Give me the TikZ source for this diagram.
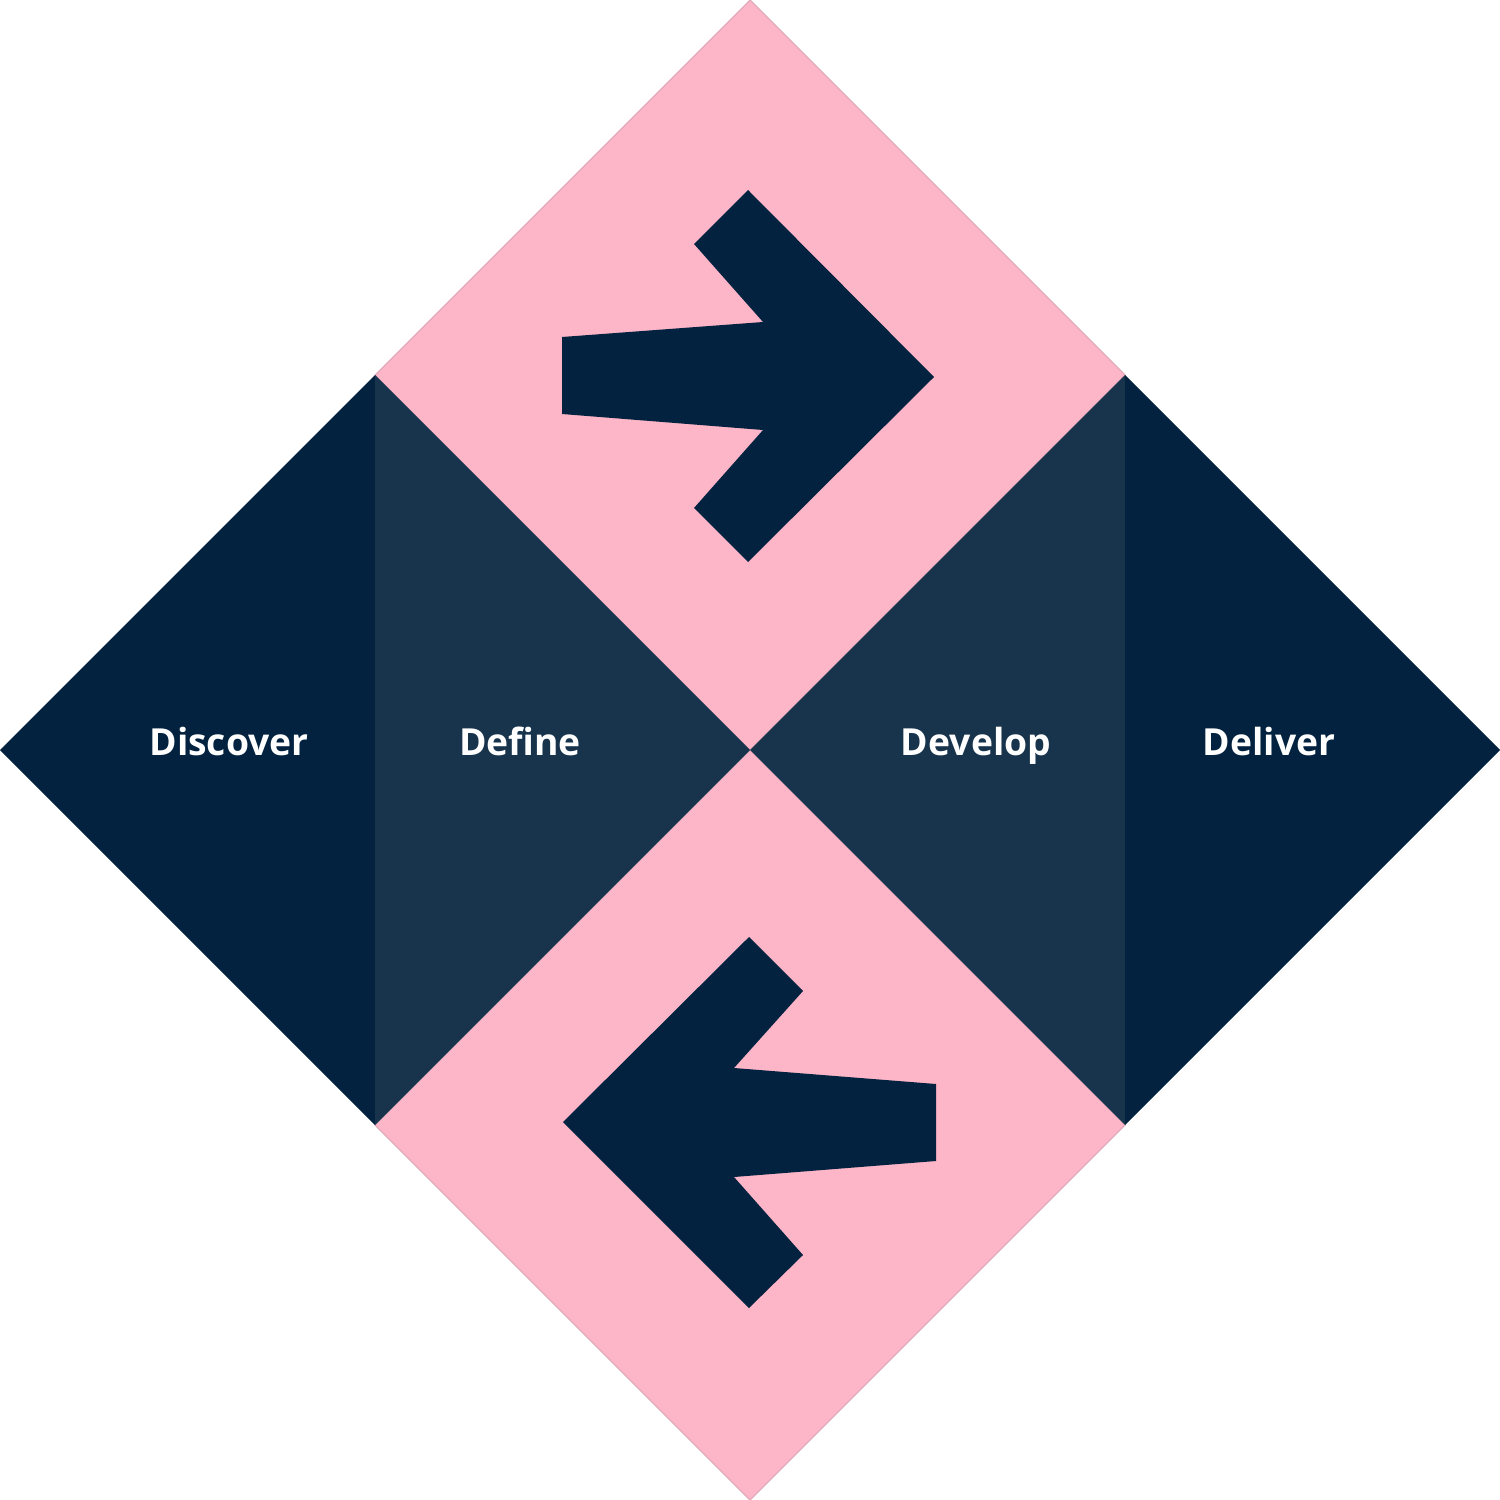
\documentclass[tikz,border=0pt]{standalone}
\usepackage{fontspec}
\setmainfont{Open Sans}
\usetikzlibrary{positioning}
\definecolor{navy}{HTML}{02223F}
\definecolor{slate}{HTML}{18344D}
\definecolor{rose}{HTML}{FDB5C8}

\begin{document}
\begin{tikzpicture}[x=0.01cm,y=-0.01cm]
    \tikzstyle{phase}=[text=white,font=\fontsize{10.6}{12}\bfseries\selectfont,anchor=base,inner sep=0pt]
    \tikzstyle{petal}=[fill=rose,draw=rose!75!gray,line width=0.3pt]
    \useasboundingbox (0,0) rectangle (1500,1500);

    % corners of the big diamond
    \coordinate (N) at (750,0);
    \coordinate (E) at (1500,750);
    \coordinate (S) at (750,1500);
    \coordinate (W) at (0,750);
    \coordinate (C) at (750,750);
    \coordinate (NW) at (375,375);
    \coordinate (NE) at (1125,375);
    \coordinate (SW) at (375,1125);
    \coordinate (SE) at (1125,1125);

    % pink halves
    \path[petal] (N) -- (NE) -- (C) -- (NW) -- cycle;
    \path[petal] (C) -- (SE) -- (S) -- (SW) -- cycle;

    % dark halves
    \fill[navy] (W) -- (NW) -- (SW) -- cycle;
    \fill[slate] (NW) -- (C) -- (SW) -- cycle;
    \fill[slate] (C) -- (NE) -- (SE) -- cycle;
    \fill[navy] (NE) -- (E) -- (SE) -- cycle;

    % arrows
    \fill[navy] (748,190) -- (934,377) -- (748,562) -- (694,508) -- (763,430)
        -- (562,414) -- (562,337) -- (763,322) -- (694,244) -- cycle;
    \fill[navy] (749,937) -- (803,991) -- (734,1068) -- (936,1084) -- (936,1161)
        -- (734,1177) -- (803,1255) -- (749,1308) -- (563,1122) -- cycle;

    \node[phase] (D1) at (229,755) {Discover};
    \node[phase] (D2) at (520,755) {Define};
    \node[phase] (D3) at (976,755) {Develop};
    \node[phase] (D4) at (1269,755) {Deliver};
\end{tikzpicture}
\end{document}
